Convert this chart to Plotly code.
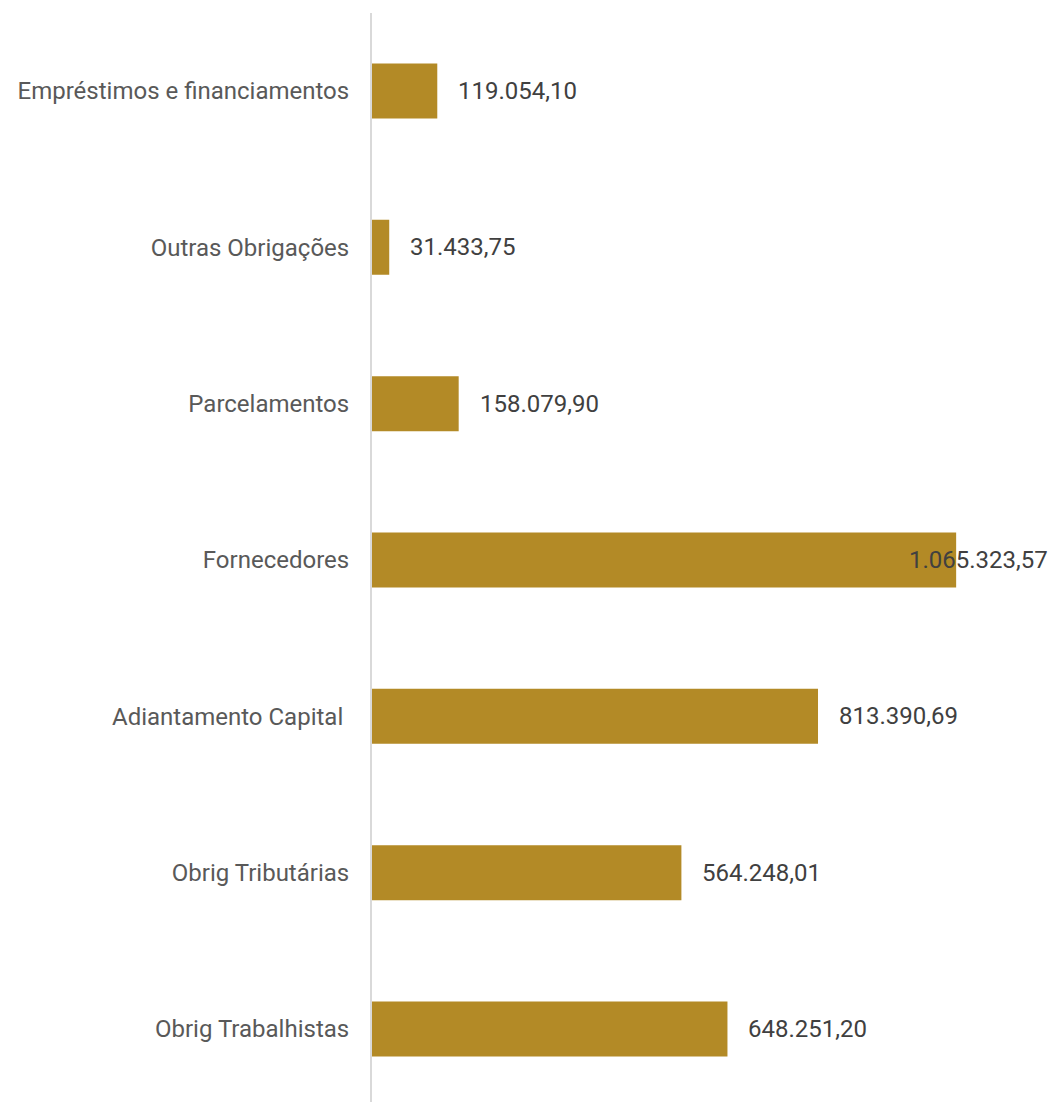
import plotly.graph_objects as go

categories = ["Obrig Trabalhistas", "Obrig Tributárias", "Adiantamento Capital ", "Fornecedores",
              "Parcelamentos", "Outras Obrigações", "Empréstimos e financiamentos"]
values = [648251.20, 564248.01, 813390.69, 1065323.57, 158079.90, 31433.75, 119054.10]

x_max = 1200000
bar_color = "#B38A26"


def fmt_br(v):
    s = f"{v:,.2f}"
    return s.replace(",", "X").replace(".", ",").replace("X", ".")


fig = go.Figure(go.Bar(
    y=categories, x=values, orientation="h",
    marker=dict(color=bar_color, line=dict(width=0)),
    hoverinfo="skip",
))

label_font = dict(family="Roboto", size=24, color="#404040")
annotations = []
for c, v in zip(categories, values):
    if v / x_max > 0.8:
        annotations.append(dict(x=x_max, y=c, xref="x", yref="y", text=fmt_br(v),
                                xanchor="right", xshift=20, showarrow=False, font=label_font))
    else:
        annotations.append(dict(x=v, y=c, xref="x", yref="y", text=fmt_br(v),
                                xanchor="left", xshift=19, showarrow=False, font=label_font))

fig.update_layout(
    width=1049, height=1094,
    margin=dict(l=364, r=27, t=5, b=0),
    paper_bgcolor="white", plot_bgcolor="white",
    bargap=0.648,
    showlegend=False,
    annotations=annotations,
    xaxis=dict(range=[0, x_max], showgrid=False, zeroline=False, showticklabels=False,
               showline=False, fixedrange=True),
    yaxis=dict(categoryorder="array", categoryarray=categories, range=[-0.467, 6.499],
               showgrid=False, zeroline=False, showline=True, linecolor="#D9D9D9", linewidth=2,
               ticks="", ticklabelstandoff=16,
               tickfont=dict(family="Roboto", size=24, color="#595959")),
)

fig.write_html("out.html")
